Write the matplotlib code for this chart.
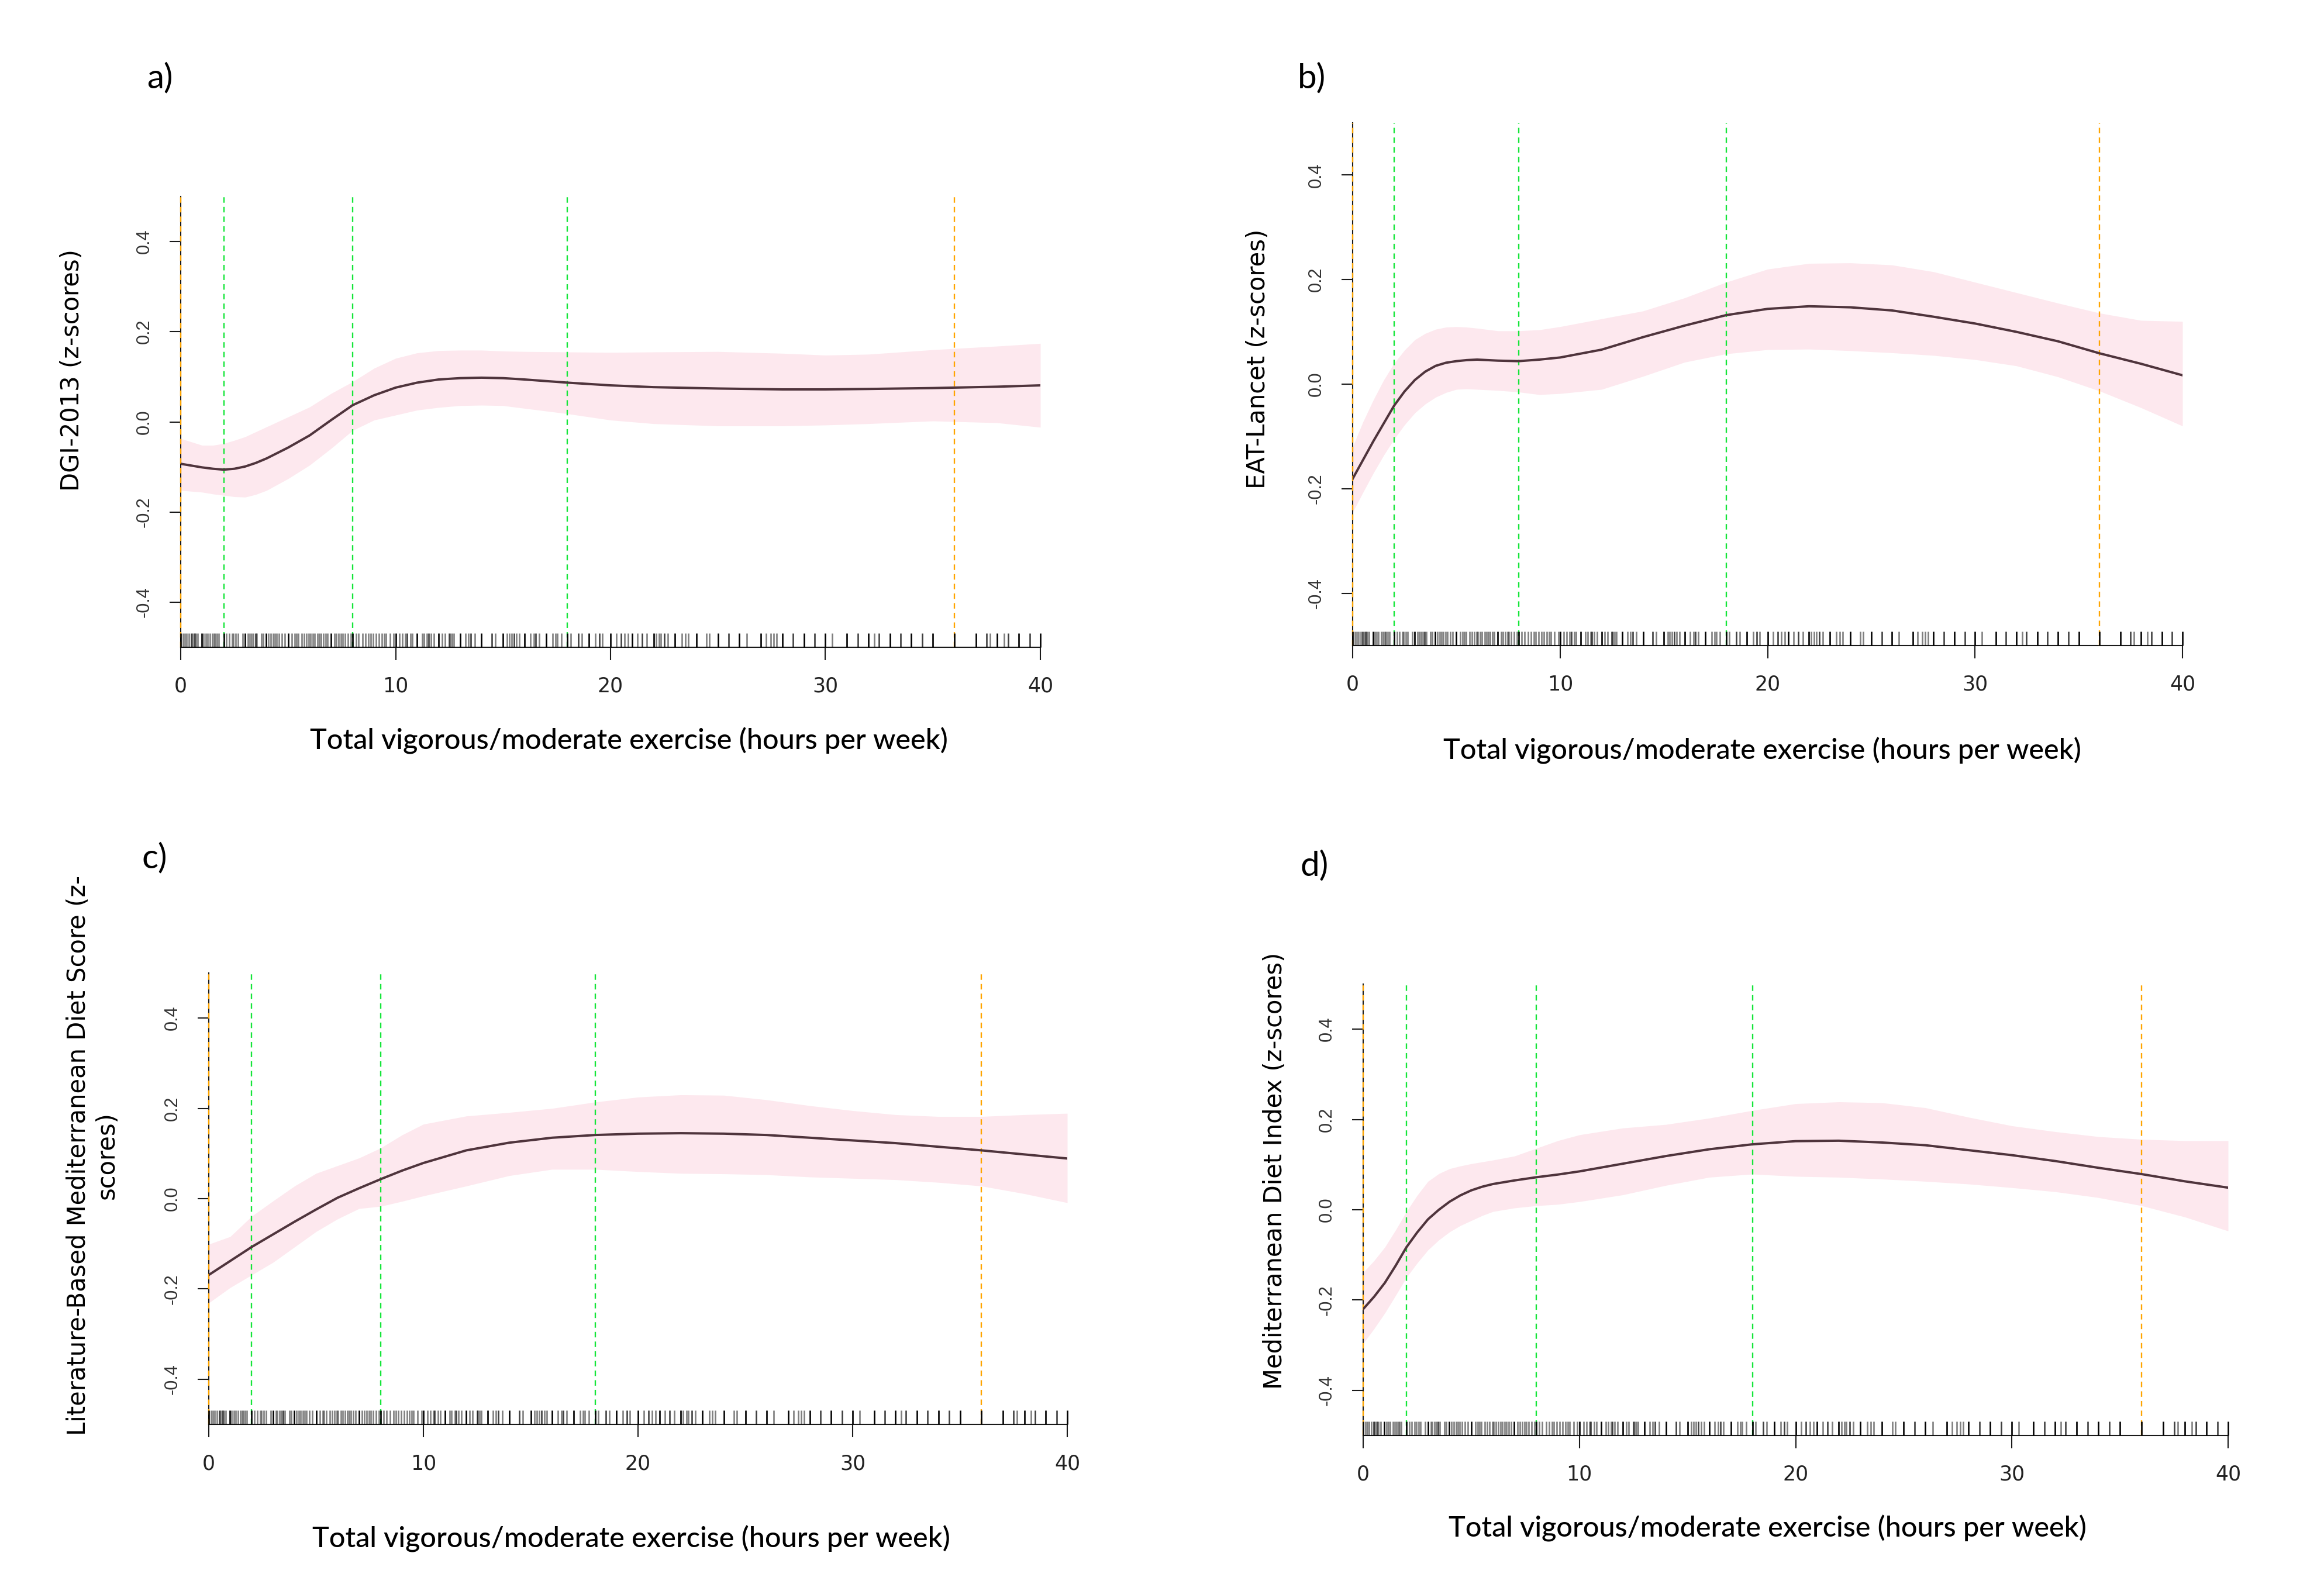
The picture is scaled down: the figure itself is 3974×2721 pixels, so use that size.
import numpy as np
import matplotlib
matplotlib.use("Agg")
import matplotlib.pyplot as plt
from matplotlib.transforms import blended_transform_factory

W, H = 3974, 2721

# x grid (hours per week) where curves were read
x_a = [0, 1, 1.5, 2, 2.5, 3, 3.5, 4, 5, 6, 7, 8, 9, 10, 11, 12, 13, 14, 15, 16, 18, 20, 22, 25, 28, 30, 32, 35, 38, 40]
fit_a = [-0.093, -0.101, -0.104, -0.106, -0.104, -0.099, -0.091, -0.081, -0.057, -0.030, 0.004, 0.037, 0.059,
         0.076, 0.087, 0.094, 0.097, 0.098, 0.097, 0.094, 0.087, 0.081, 0.077, 0.074, 0.072, 0.072, 0.073,
         0.075, 0.078, 0.081]
upr_a = [-0.037, -0.052, -0.052, -0.048, -0.041, -0.033, -0.022, -0.011, 0.011, 0.033, 0.063, 0.089, 0.119,
         0.141, 0.153, 0.158, 0.159, 0.159, 0.157, 0.156, 0.155, 0.154, 0.155, 0.156, 0.152, 0.148, 0.150,
         0.160, 0.168, 0.174]
lwr_a = [-0.152, -0.156, -0.160, -0.163, -0.166, -0.167, -0.161, -0.152, -0.126, -0.096, -0.059, -0.019,
         0.004, 0.015, 0.026, 0.032, 0.036, 0.037, 0.036, 0.030, 0.018, 0.004, -0.004, -0.009, -0.009,
         -0.007, -0.004, 0.002, -0.002, -0.012]

x_b = [0, 0.5, 1, 1.5, 2, 2.5, 3, 3.5, 4, 4.5, 5, 5.5, 6, 7, 8, 9, 10, 12, 14, 16, 18, 20, 22, 24, 26, 28,
       30, 32, 34, 36, 38, 40]
fit_b = [-0.181, -0.145, -0.109, -0.075, -0.041, -0.014, 0.008, 0.024, 0.035, 0.041, 0.044, 0.046, 0.047,
         0.045, 0.044, 0.047, 0.051, 0.066, 0.090, 0.112, 0.132, 0.144, 0.149, 0.147, 0.141, 0.129, 0.116,
         0.100, 0.082, 0.059, 0.039, 0.017]
upr_b = [-0.120, -0.072, -0.030, 0.008, 0.040, 0.065, 0.085, 0.097, 0.105, 0.109, 0.110, 0.109, 0.107,
         0.102, 0.102, 0.104, 0.110, 0.125, 0.140, 0.165, 0.195, 0.220, 0.231, 0.232, 0.228, 0.215, 0.195,
         0.175, 0.155, 0.136, 0.122, 0.120]
lwr_b = [-0.245, -0.207, -0.170, -0.136, -0.105, -0.078, -0.055, -0.038, -0.025, -0.016, -0.010, -0.009,
         -0.010, -0.012, -0.015, -0.020, -0.018, -0.010, 0.015, 0.042, 0.058, 0.066, 0.067, 0.064, 0.060,
         0.055, 0.047, 0.035, 0.014, -0.013, -0.045, -0.080]

x_c = [0, 1, 2, 3, 4, 5, 6, 7, 8, 9, 10, 12, 14, 16, 18, 20, 22, 24, 26, 28, 30, 32, 34, 36, 38, 40]
fit_c = [-0.169, -0.138, -0.107, -0.079, -0.051, -0.024, 0.002, 0.023, 0.043, 0.062, 0.079, 0.107, 0.124,
         0.135, 0.141, 0.144, 0.145, 0.144, 0.141, 0.135, 0.129, 0.123, 0.115, 0.107, 0.098, 0.089]
upr_c = [-0.101, -0.084, -0.039, -0.005, 0.028, 0.056, 0.073, 0.090, 0.112, 0.141, 0.165, 0.183, 0.191,
         0.200, 0.214, 0.225, 0.230, 0.229, 0.219, 0.206, 0.195, 0.186, 0.182, 0.182, 0.186, 0.189]
lwr_c = [-0.231, -0.197, -0.169, -0.141, -0.107, -0.073, -0.045, -0.022, -0.017, -0.006, 0.006, 0.028, 0.051,
         0.065, 0.065, 0.060, 0.056, 0.055, 0.053, 0.048, 0.045, 0.042, 0.036, 0.028, 0.011, -0.009]

x_d = [0, 0.5, 1, 1.5, 2, 2.5, 3, 3.5, 4, 4.5, 5, 5.5, 6, 7, 8, 9, 10, 12, 14, 16, 18, 20, 22, 24, 26, 28,
       30, 32, 34, 36, 38, 40]
fit_d = [-0.220, -0.193, -0.162, -0.124, -0.083, -0.050, -0.021, 0.000, 0.018, 0.032, 0.043, 0.051, 0.057,
         0.065, 0.072, 0.078, 0.085, 0.102, 0.119, 0.134, 0.145, 0.152, 0.153, 0.149, 0.143, 0.132, 0.121,
         0.108, 0.093, 0.079, 0.063, 0.049]
upr_d = [-0.139, -0.113, -0.083, -0.045, -0.004, 0.032, 0.063, 0.080, 0.091, 0.097, 0.102, 0.106, 0.110,
         0.119, 0.136, 0.153, 0.166, 0.181, 0.189, 0.203, 0.220, 0.235, 0.239, 0.237, 0.226, 0.205, 0.186,
         0.173, 0.162, 0.156, 0.153, 0.153]
lwr_d = [-0.296, -0.264, -0.229, -0.190, -0.150, -0.118, -0.089, -0.067, -0.049, -0.035, -0.024, -0.013,
         -0.004, 0.004, 0.009, 0.012, 0.018, 0.033, 0.054, 0.072, 0.079, 0.074, 0.072, 0.068, 0.063, 0.057,
         0.049, 0.040, 0.027, 0.009, -0.016, -0.047]

# observed exposure values (rug)
rug = [0.0, 0.10, 0.19, 0.28, 0.39, 0.48, 0.55, 0.62, 0.66, 0.71, 0.80, 0.98, 1.07, 1.16, 1.25, 1.37, 1.46,
       1.55, 1.61, 1.68, 1.77, 2.0, 2.13, 2.25, 2.39, 2.46, 2.57, 2.66, 2.88, 3.0, 3.13, 3.2, 3.29, 3.38,
       3.47, 3.55, 3.75, 3.84, 3.97, 4.09, 4.2, 4.29, 4.38, 4.47, 4.56, 4.7, 4.83, 5.0, 5.18, 5.31, 5.38,
       5.47, 5.63, 5.74, 5.85, 5.97, 6.03, 6.15, 6.24, 6.36, 6.45, 6.54, 6.63, 6.74, 6.83, 6.99, 7.15, 7.24,
       7.36, 7.46, 7.54, 7.65, 7.78, 7.92, 8.01, 8.15, 8.28, 8.46, 8.6, 8.73, 8.83, 8.96, 9.1, 9.23, 9.35,
       9.46, 9.55, 9.73, 9.91, 10.0, 10.19, 10.32, 10.46, 10.53, 10.69, 10.78, 11.0, 11.23, 11.32, 11.46,
       11.53, 11.64, 11.77, 12.0, 12.16, 12.29, 12.5, 12.54, 12.62, 12.71, 13.0, 13.25, 13.39, 13.5, 13.68,
       14.0, 14.47, 14.63, 15.0, 15.18, 15.29, 15.4, 15.5, 15.63, 15.76, 16.0, 16.26, 16.43, 16.52, 16.67,
       17.0, 17.31, 17.44, 17.53, 17.71, 18.0, 18.15, 18.5, 18.67, 19.0, 19.3, 19.48, 19.62, 20.0, 20.27,
       20.48, 20.66, 20.82, 21.0, 21.25, 21.48, 21.7, 22.0, 22.11, 22.25, 22.34, 22.5, 22.66, 23.0, 23.32,
       23.47, 23.61, 24.0, 24.47, 24.61, 25.0, 25.5, 26.0, 26.33, 27.0, 27.24, 27.46, 27.6, 27.74, 28.0,
       28.5, 29.0, 29.5, 30.0, 30.32, 31.0, 31.5, 32.0, 32.27, 32.48, 33.0, 33.5, 34.0, 34.5, 35.0, 36.0,
       37.0, 37.5, 37.67, 38.0, 38.32, 38.5, 39.0, 39.5, 40.0]

green_cuts = [2, 8, 18]
orange_cuts = [0, 36]

panels = [
    dict(letter="a)", x=x_a, fit=fit_a, upr=upr_a, lwr=lwr_a, ylabel="DGI-2013 (z-scores)",
         box=(309, 336, 1779, 1107), letter_xy=(273, 134), ylab_xy=(123, 633), xlab_xy=(1075, 1267)),
    dict(letter="b)", x=x_b, fit=fit_b, upr=upr_b, lwr=lwr_b, ylabel="EAT-Lancet (z-scores)",
         box=(2313, 210, 3732, 1104), letter_xy=(2243, 134), ylab_xy=(2151, 614), xlab_xy=(3013, 1284)),
    dict(letter="c)", x=x_c, fit=fit_c, upr=upr_c, lwr=lwr_c,
         ylabel="Literature-Based Mediterranean Diet Score (z-\nscores)",
         box=(357, 1664, 1825, 2436), letter_xy=(264, 1468), ylab_xy=(158, 1976), xlab_xy=(1079, 2632)),
    dict(letter="d)", x=x_d, fit=fit_d, upr=upr_d, lwr=lwr_d, ylabel="Mediterranean Diet Index (z-scores)",
         box=(2331, 1683, 3810, 2455), letter_xy=(2248, 1481), ylab_xy=(2180, 2002), xlab_xy=(3022, 2614)),
]

fig = plt.figure(figsize=(W / 100, H / 100), dpi=100)
fig.patch.set_facecolor("white")

for p in panels:
    l, t, r, b = p["box"]
    ax = fig.add_axes([l / W, 1 - b / H, (r - l) / W, (b - t) / H])
    ax.set_xlim(0, 40)
    ax.set_ylim(-0.5, 0.5)

    ax.fill_between(p["x"], p["lwr"], p["upr"], color="#FDE8EE", lw=0, zorder=1)
    for c in green_cuts:
        ax.axvline(c, color="#16E63A", lw=1.7, ls=(0, (4, 3)), zorder=2)
    for c in orange_cuts:
        ax.axvline(c, color="#FFA500", lw=1.7, ls=(0, (4, 3)), zorder=3, clip_on=False)
    ax.plot(p["x"], p["fit"], color="#4F343C", lw=2.9, zorder=4)

    # rug along the bottom
    rug_h = 24 / (b - t)
    trans = blended_transform_factory(ax.transData, ax.transAxes)
    for v in rug:
        fr = abs(v - round(v))
        a = 1.0 if fr < 0.03 else (0.75 if abs(fr - 0.5) < 0.03 else 0.5)
        ax.plot([v, v], [0, rug_h], transform=trans, color="black", lw=1.9, alpha=a,
                clip_on=False, zorder=5, solid_capstyle="butt")

    for s in ["top", "right"]:
        ax.spines[s].set_visible(False)
    for s in ["left", "bottom"]:
        ax.spines[s].set_linewidth(1.5)
        ax.spines[s].set_color("#1a1a1a")

    ax.set_xticks([0, 10, 20, 30, 40])
    ax.set_yticks([-0.4, -0.2, 0.0, 0.2, 0.4])
    ax.set_yticklabels(["-0.4", "-0.2", "0.0", "0.2", "0.4"], rotation=90, va="center",
                       fontfamily="Liberation Sans", fontsize=22, color="#333333")
    ax.set_xticklabels(["0", "10", "20", "30", "40"], fontfamily="Liberation Sans Narrow",
                       fontsize=25, color="#222222")
    ax.tick_params(axis="x", length=16, width=1.5, pad=20, color="#1a1a1a")
    ax.tick_params(axis="y", length=14, width=1.5, pad=20, color="#1a1a1a")

    fig.text(p["letter_xy"][0] / W, 1 - p["letter_xy"][1] / H, p["letter"], fontfamily="Lato",
             fontsize=42, ha="center", va="center")
    fig.text(p["ylab_xy"][0] / W, 1 - p["ylab_xy"][1] / H, p["ylabel"], fontfamily="DejaVu Sans",
             fontsize=30, rotation=90, ha="center", va="center", linespacing=1.2)
    fig.text(p["xlab_xy"][0] / W, 1 - p["xlab_xy"][1] / H,
             "Total vigorous/moderate exercise (hours per week)", fontfamily="Lato",
             fontweight="medium", fontsize=35, ha="center", va="center")

fig.savefig("out.png", dpi=100, facecolor="white")
